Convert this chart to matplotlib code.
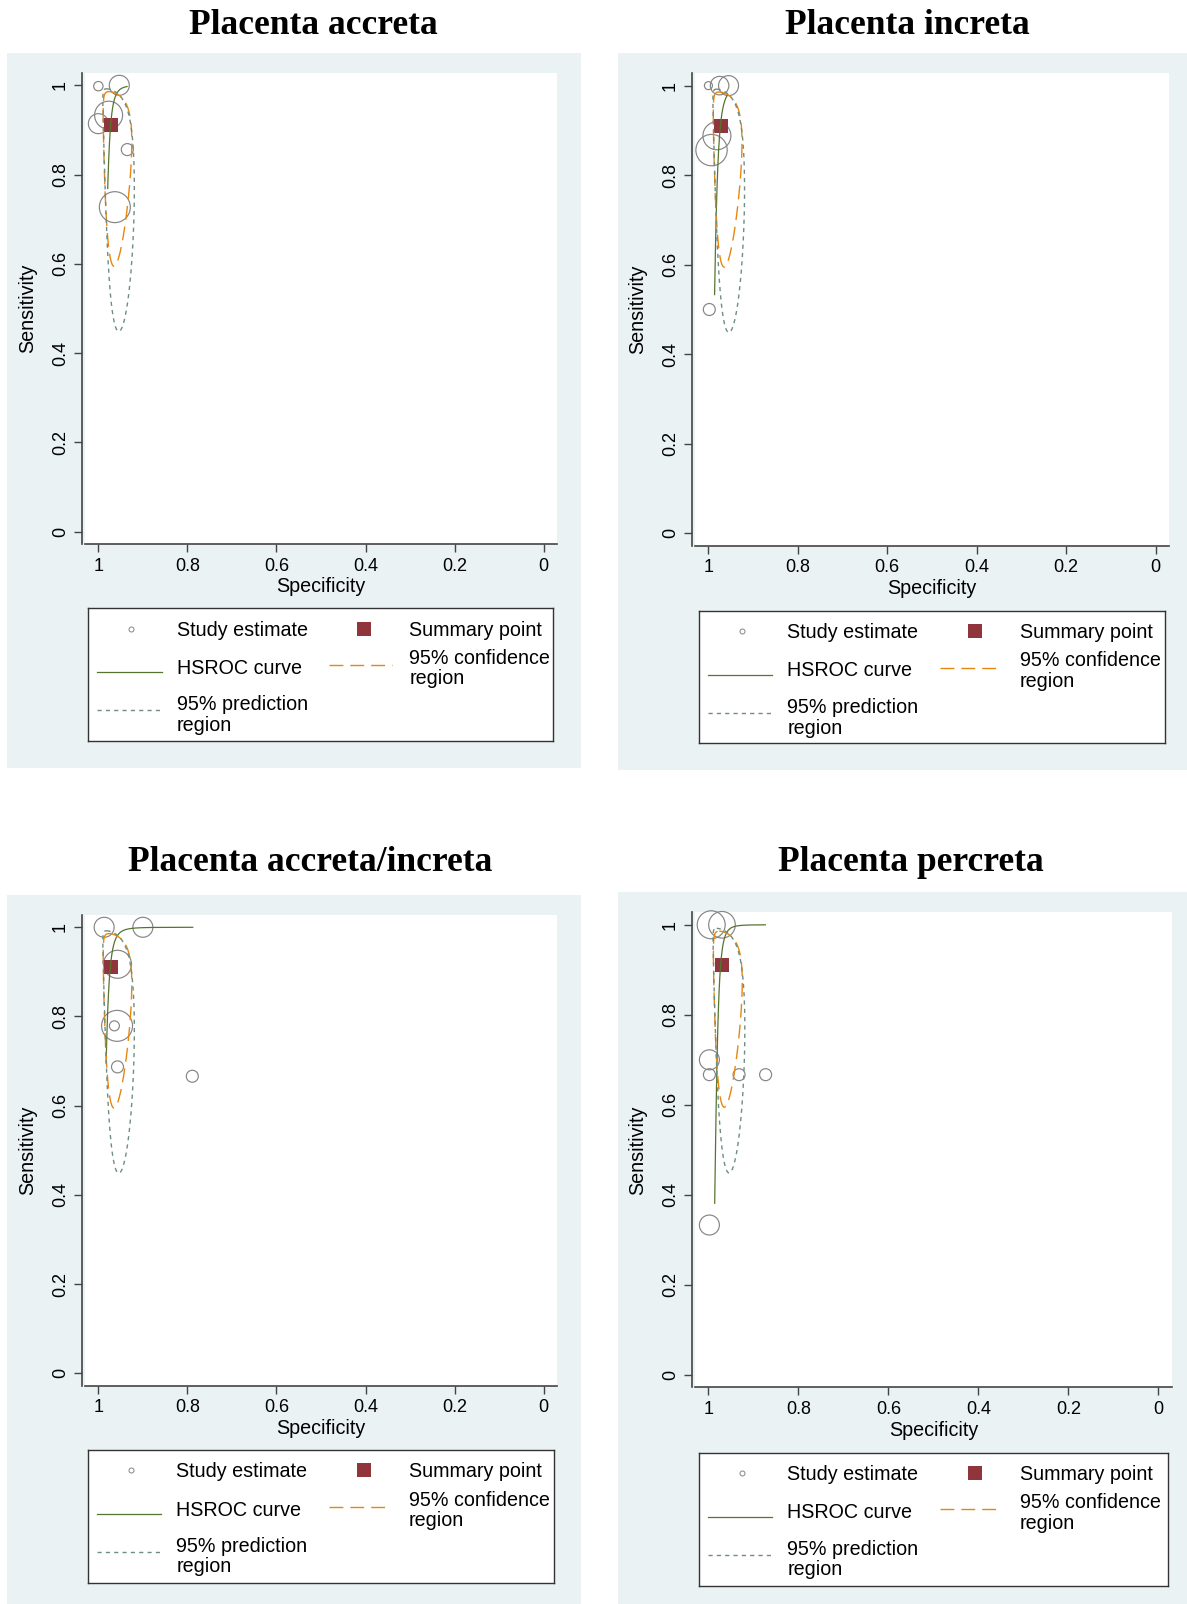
import numpy as np
import matplotlib.pyplot as plt
from matplotlib.patches import Rectangle

plt.rcParams.update({
    "font.family": ["Liberation Sans", "DejaVu Sans"],
    "font.size": 14,
    "lines.scale_dashes": False,
})

W, H = 1187, 1604

COLORS = {
    "bg": "#EAF2F3",
    "study": "#858585",
    "summary": "#90353B",
    "hsroc": "#55752F",
    "conf": "#E8870F",
    "pred": "#6E8E84",
    "axis": "#444444",
}

TITLES = ["Placenta accreta", "Placenta increta",
          "Placenta accreta/increta", "Placenta percreta"]
TICKS = [0, 0.2, 0.4, 0.6, 0.8, 1]
TICK_LABELS = ["0", "0.2", "0.4", "0.6", "0.8", "1"]

# study estimates (specificity, sensitivity, weight)
accreta_spec = [1.0, 0.953, 0.977, 1.0, 0.935, 0.963]
accreta_sens = [0.998, 1.0, 0.933, 0.914, 0.856, 0.727]
accreta_wt = [22, 100, 196, 100, 36, 240]

increta_spec = [1.0, 0.975, 0.955, 0.981, 0.993, 0.998]
increta_sens = [1.0, 1.0, 1.0, 0.888, 0.856, 0.5]
increta_wt = [16, 86, 100, 196, 246, 36]

accinc_spec = [0.987, 0.9, 0.957, 0.958, 0.964, 0.957, 0.789]
accinc_sens = [1.0, 1.0, 0.917, 0.779, 0.779, 0.687, 0.666]
accinc_wt = [100, 100, 196, 240, 25, 36, 36]

percreta_spec = [0.994, 0.97, 0.998, 0.998, 0.932, 0.873, 0.998]
percreta_sens = [1.0, 1.0, 0.7, 0.667, 0.667, 0.667, 0.333]
percreta_wt = [196, 177, 100, 36, 36, 36, 100]

# summary point
summary_spec = [0.971, 0.971, 0.971, 0.971]
summary_sens = [0.91, 0.91, 0.91, 0.91]

# HSROC: logit(sens) = a + b * logit(1 - spec), over a spec range
hsroc_a = [16.57, 13.88, 14.53, 17.02]
hsroc_b = [4.0, 3.22, 3.4, 4.1]
hsroc_spec_lo = [0.9355, 0.957, 0.788, 0.8736]
hsroc_spec_hi = [0.979, 0.9862, 0.9825, 0.9862]

# regions in logit space: half-range sens, half-range spec, correlation
conf_region = (1.93, 1.0, 0.2)
pred_region = (2.52, 1.08, 0.44)

studies = [
    (accreta_spec, accreta_sens, accreta_wt),
    (increta_spec, increta_sens, increta_wt),
    (accinc_spec, accinc_sens, accinc_wt),
    (percreta_spec, percreta_sens, percreta_wt),
]

# layout in pixels (x0, y0, x1, y1)
BG = [(7.3, 53, 581, 767.7), (618.3, 53, 1187, 769.5),
      (7.3, 895, 581, 1604), (618.3, 891.7, 1187, 1604)]
PLOT = [(85, 73, 557, 544), (695, 73.3, 1169, 545.7),
        (85, 915, 557, 1385.6), (695, 912.4, 1171.7, 1387.3)]
LEG = [(88.3, 608.3, 553.3, 740.7), (699, 611, 1165.3, 743.3),
       (88, 1450, 553.6, 1583), (699, 1452.7, 1168.3, 1586)]
TITLE_POS = [(313.8, 25.5), (907, 25.5), (310.6, 862.6), (910.7, 862.6)]


def logit(p):
    p = np.asarray(p, dtype=float)
    return np.log(p / (1 - p))


def expit(x):
    return 1 / (1 + np.exp(-x))


def rect(box):
    x0, y0, x1, y1 = box
    return [x0 / W, 1 - y1 / H, (x1 - x0) / W, (y1 - y0) / H]


def region(spec0, sens0, params):
    ha, hb, rho = params
    t = np.linspace(0, 2 * np.pi, 400)
    la = logit(sens0) + ha * np.cos(t)
    lb = logit(spec0) + hb * np.cos(t + np.arccos(rho))
    return expit(lb), expit(la)


fig = plt.figure(figsize=(W / 100, H / 100), dpi=100)

for i in range(4):
    r = rect(BG[i])
    fig.add_artist(Rectangle((r[0], r[1]), r[2], r[3], transform=fig.transFigure,
                             facecolor=COLORS["bg"], edgecolor="none", zorder=0))

    fig.text(TITLE_POS[i][0] / W, 1 - TITLE_POS[i][1] / H, TITLES[i],
             ha="center", va="center", fontsize=25.5, fontweight="bold",
             family=["Liberation Serif", "DejaVu Serif"])

    ax = fig.add_axes(rect(PLOT[i]))
    ax.set_facecolor("white")
    ax.set_xlim(1.03, -0.03)
    ax.set_ylim(-0.0275, 1.0275)
    for s in ["top", "right"]:
        ax.spines[s].set_visible(False)
    for s in ["left", "bottom"]:
        ax.spines[s].set_color(COLORS["axis"])
        ax.spines[s].set_linewidth(1.2)
    ax.spines["left"].set_position(("outward", 2.4))
    ax.set_xticks(TICKS)
    ax.set_xticklabels(TICK_LABELS)
    ax.set_yticks(TICKS)
    ax.set_yticklabels(TICK_LABELS)
    ax.tick_params(axis="both", length=5.8, width=1.0, color=COLORS["axis"],
                   labelsize=13)
    ax.tick_params(axis="x", pad=4)
    ax.tick_params(axis="y", pad=3.5, labelrotation=90)
    for lab in ax.get_yticklabels():
        lab.set_va("center")

    sp, se, wt = studies[i]
    ax.scatter(sp, se, s=np.array(wt) * 2.07, facecolors="none",
               edgecolors=COLORS["study"], linewidths=0.85, zorder=2, clip_on=False)
    ax.scatter([summary_spec[i]], [summary_sens[i]], marker="s", s=95,
               color=COLORS["summary"], linewidths=0, zorder=3, clip_on=False)

    spec_grid = np.linspace(hsroc_spec_lo[i], hsroc_spec_hi[i], 300)
    sens_curve = expit(hsroc_a[i] + hsroc_b[i] * logit(1 - spec_grid))
    ax.plot(spec_grid, sens_curve, color=COLORS["hsroc"], lw=0.9, zorder=4)

    cx, cy = region(summary_spec[i], summary_sens[i], conf_region)
    ax.plot(cx, cy, color=COLORS["conf"], lw=1.0, dashes=(10, 5), zorder=4)
    px, py = region(summary_spec[i], summary_sens[i], pred_region)
    ax.plot(px, py, color=COLORS["pred"], lw=1.0, dashes=(3, 3), zorder=4)

    x0, y0, x1, y1 = PLOT[i]
    fig.text((x0 + x1) / 2 / W, 1 - (y1 + 43) / H, "Specificity",
             ha="center", va="center", fontsize=14.2)
    fig.text((x0 - 57.4) / W, 1 - (y0 + y1) / 2 / H, "Sensitivity",
             ha="center", va="center", rotation=90, fontsize=14.2)

    # legend box
    lx0, ly0, lx1, ly1 = LEG[i]
    lax = fig.add_axes(rect(LEG[i]))
    lax.set_xlim(0, lx1 - lx0)
    lax.set_ylim(ly1 - ly0, 0)
    lax.set_xticks([])
    lax.set_yticks([])
    lax.set_facecolor("white")
    for s in lax.spines.values():
        s.set_color("#333333")
        s.set_linewidth(1.0)
    lax.plot([42.7], [20.4], "o", ms=3.6, mfc="none", mec=COLORS["study"], mew=0.7)
    lax.text(88.4, 27.2, "Study estimate", va="baseline", fontsize=14.2)
    lax.plot([275.7], [20.4], "s", ms=9.8, color=COLORS["summary"], mew=0)
    lax.text(321, 27.2, "Summary point", va="baseline", fontsize=14.2)
    lax.plot([9, 73.4], [64, 64], color=COLORS["hsroc"], lw=0.9)
    lax.text(88.4, 65.5, "HSROC curve", va="baseline", fontsize=14.2)
    lax.plot([241, 303.4], [56.7, 56.7], color=COLORS["conf"], lw=1.0, dashes=(10, 5))
    lax.text(321, 55.5, "95% confidence", va="baseline", fontsize=14.2)
    lax.text(321, 76, "region", va="baseline", fontsize=14.2)
    lax.plot([9, 73.4], [102, 102], color=COLORS["pred"], lw=1.0, dashes=(3, 3))
    lax.text(88.4, 102, "95% prediction", va="baseline", fontsize=14.2)
    lax.text(88.4, 122.5, "region", va="baseline", fontsize=14.2)

fig.savefig("out.png", dpi=100)
